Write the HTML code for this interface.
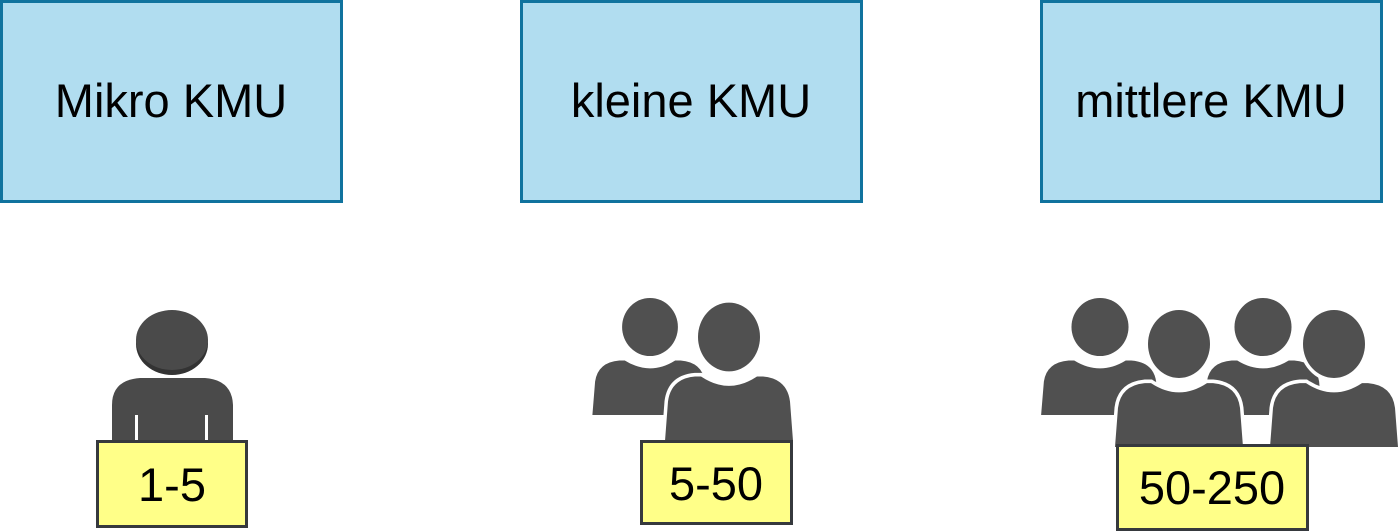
<!DOCTYPE html>
<html><head><style>
html,body{margin:0;padding:0;background:#fff;width:1400px;height:532px;overflow:hidden}
svg{display:block}
text{font-family:"Liberation Sans",Arial,sans-serif}
</style></head><body>
<svg width="1400" height="532" viewBox="0 0 1400 532">
<defs>
<g id="p">
<path d="M-64,100 L-61,62 Q-58,40 -34,38 L-28,38 Q0,56 28,38 L34,38 Q58,40 61,62 L64,100 Z"/>
<ellipse cx="0" cy="0" rx="31" ry="33"/>
</g>
</defs>
<rect x="1.5" y="1.5" width="340" height="200" fill="#b1ddf0" stroke="#10739e" stroke-width="3"/>
<rect x="521.5" y="1.5" width="340" height="200" fill="#b1ddf0" stroke="#10739e" stroke-width="3"/>
<rect x="1041.5" y="1.5" width="340" height="200" fill="#b1ddf0" stroke="#10739e" stroke-width="3"/>
<text x="171" y="117" font-size="47" text-anchor="middle">Mikro KMU</text>
<text x="691" y="117" font-size="47" text-anchor="middle">kleine KMU</text>
<text x="1211" y="117" font-size="47" text-anchor="middle">mittlere KMU</text>

<g fill="#4a4a4a">
<ellipse cx="172" cy="344" rx="36" ry="31" fill="#333"/>
<ellipse cx="172" cy="340" rx="36" ry="30"/>
<path d="M112,445 L112,405 Q112,380 140,378 L205,378 Q232,380 233,405 L233,445 Z"/>
</g>
<rect x="135" y="415" width="3" height="27" fill="#fff"/>
<rect x="205" y="415" width="3" height="27" fill="#fff"/>

<g fill="#505050">
<use href="#p" transform="translate(650,327) scale(0.9,0.88)"/>
</g>
<g fill="#505050" stroke="#fff" stroke-width="7" paint-order="stroke">
<use href="#p" transform="translate(729,337) scale(1.0,1.04)"/>
</g>

<g fill="#505050">
<use href="#p" transform="translate(1100,327) scale(0.92,0.88)"/>
<use href="#p" transform="translate(1263,327) scale(0.92,0.88)"/>
</g>
<g fill="#505050" stroke="#fff" stroke-width="7" paint-order="stroke">
<use href="#p" transform="translate(1179,344) scale(1.0,1.03)"/>
<use href="#p" transform="translate(1334,344) scale(1.0,1.03)"/>
</g>

<rect x="97.5" y="441.5" width="149" height="85" fill="#ffff88" stroke="#36393d" stroke-width="3"/>
<text x="172" y="501" font-size="47" text-anchor="middle">1-5</text>
<rect x="641.5" y="441.5" width="150" height="82" fill="#ffff88" stroke="#36393d" stroke-width="3"/>
<text x="716" y="500" font-size="47" text-anchor="middle">5-50</text>
<rect x="1117.5" y="445.5" width="190" height="84" fill="#ffff88" stroke="#36393d" stroke-width="3"/>
<text x="1212" y="504" font-size="47" text-anchor="middle">50-250</text>
</svg>
</body></html>
